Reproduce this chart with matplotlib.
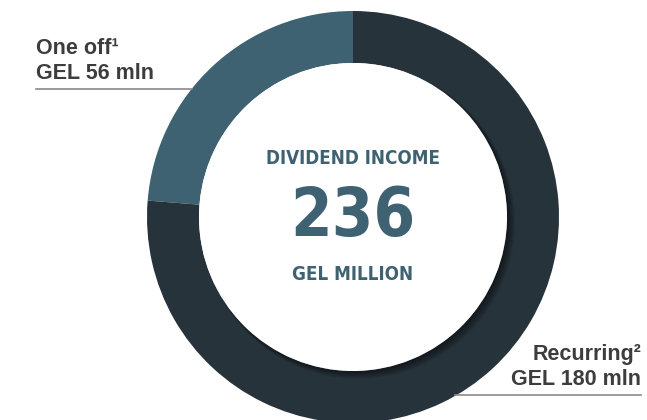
import matplotlib
matplotlib.use("Agg")
from matplotlib import pyplot as plt
from matplotlib.patches import Circle

# data
segments = ["One off", "Recurring"]
values = [56, 180]
colors = ["#3f6272", "#27333b"]
labels = ["One off\u00b9\nGEL 56 mln", "Recurring\u00b2\nGEL 180 mln"]
total = sum(values)

fig = plt.figure(figsize=(6.47, 4.20), dpi=100)
ax = fig.add_axes([0, 0, 1, 1])

cx, cy, R, w = 353, 203, 206, 52

ax.pie(values, colors=colors, startangle=90, counterclock=True,
       center=(cx, cy), radius=R, frame=True,
       wedgeprops=dict(width=w, linewidth=0))
ax.set_xlim(0, 647)
ax.set_ylim(0, 420)
ax.set_aspect("equal")
ax.axis("off")

# the white disc casts a faint shadow on the ring (lower right)
r_in = R - w
for i in range(1, 9):
    ax.add_patch(Circle((cx + 0.7 * i, cy - 0.7 * i), r_in + 0.3 * i,
                        facecolor="black", linewidth=0, alpha=0.07))
ax.add_patch(Circle((cx, cy), r_in, facecolor="white", linewidth=0))

cond = dict(family="DejaVu Sans", fontstretch="condensed", fontweight="bold")
center_col = "#3f6272"
ax.text(cx, 262, "DIVIDEND INCOME", ha="center", va="center", fontsize=13.5,
        color=center_col, **cond)
ax.text(cx, 203, str(total), ha="center", va="center", fontsize=48,
        color=center_col, **cond)
ax.text(cx, 146, "GEL MILLION", ha="center", va="center", fontsize=13.5,
        color=center_col, **cond)

lab_col = "#3d3d3d"
ax.text(36, 359, labels[0], ha="left", va="center", fontsize=15.5,
        fontweight="bold", family="Liberation Sans", color=lab_col,
        linespacing=1.2)
ax.plot([36, 192], [331, 331], color="#8a8a8a", linewidth=1.2)

ax.text(641, 53, labels[1], ha="right", va="center", fontsize=15.5,
        fontweight="bold", family="Liberation Sans", color=lab_col,
        linespacing=1.2)
ax.plot([455, 641], [25, 25], color="#8a8a8a", linewidth=1.2)

fig.savefig("out.png", dpi=100)
